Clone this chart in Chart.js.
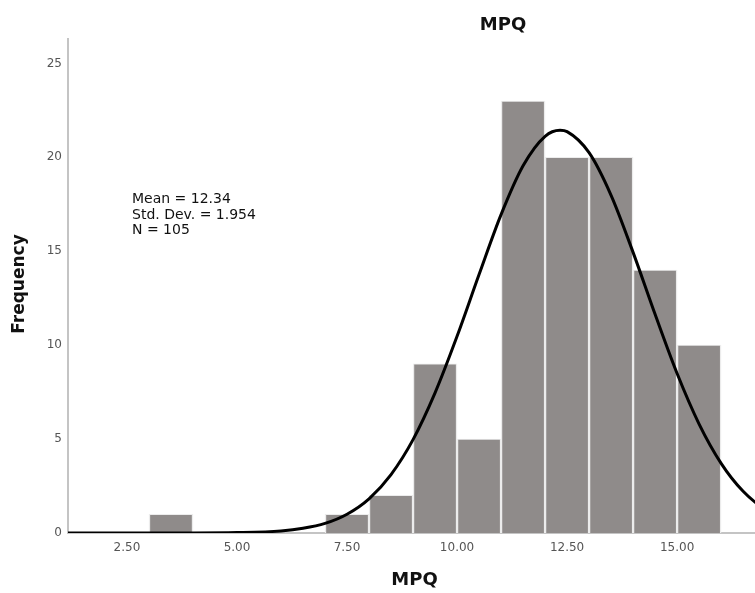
<!DOCTYPE html>
<html>
<head>
<meta charset="utf-8">
<script src="https://cdn.jsdelivr.net/npm/chart.js@4/dist/chart.umd.min.js"></script>
<style>
  html, body { margin: 0; padding: 0; background: #fff; overflow: hidden; }
  #wrap { width: 755px; height: 593px; }
</style>
</head>
<body>
<div id="wrap"><canvas id="histChart" width="755" height="593"></canvas></div>
<script>
// histogram bins (bin centre) and counts
const binCenters = [3.5, 7.5, 8.5, 9.5, 10.5, 11.5, 12.5, 13.5, 14.5, 15.5];
const binCounts = [1, 1, 2, 9, 5, 23, 20, 20, 14, 10];

// normal curve
const curveX = [1, 2, 3, 4, 5, 6, 6.5, 7, 7.5, 8, 8.5, 9, 9.5, 10, 10.5, 11, 11.5, 12, 12.34, 12.5, 13, 13.5, 14, 14.5, 15, 15.5, 16, 16.5, 17, 17.5];
const curveY = [0, 0, 0, 0, 0.02, 0.11, 0.25, 0.51, 1.0, 1.82, 3.11, 4.97, 7.46, 10.47, 13.76, 16.95, 19.55, 21.12, 21.44, 21.37, 20.25, 17.98, 14.94, 11.64, 8.49, 5.80, 3.71, 2.22, 1.25, 0.66];

const xTicks = [2.5, 5, 7.5, 10, 12.5, 15];
const yTicks = [0, 5, 10, 15, 20, 25];

const statLines = ['Mean = 12.34', 'Std. Dev. = 1.954', 'N = 105'];
const chartTitle = 'MPQ';
const xTitle = 'MPQ';
const yTitle = 'Frequency';

const textPlugin = {
  id: 'spssText',
  afterDraw(chart) {
    const ctx = chart.ctx;
    const area = chart.chartArea;
    ctx.save();
    ctx.fillStyle = '#111';
    ctx.textAlign = 'center';
    ctx.textBaseline = 'middle';
    ctx.font = 'bold 18px "DejaVu Sans"';
    ctx.fillText(chartTitle, 503, 25);
    ctx.fillText(xTitle, (area.left + area.right) / 2 + 3, 580);

    ctx.save();
    ctx.translate(20, (area.top + area.bottom) / 2 - 2);
    ctx.rotate(-Math.PI / 2);
    ctx.font = 'bold 17px "DejaVu Sans"';
    ctx.fillText(yTitle, 0, 0);
    ctx.restore();

    ctx.textAlign = 'left';
    ctx.textBaseline = 'alphabetic';
    ctx.font = '14px "DejaVu Sans"';
    ctx.fillStyle = '#111';
    statLines.forEach((s, i) => ctx.fillText(s, 132, 203 + i * 15.5));
    ctx.restore();
  }
};

new Chart(document.getElementById('histChart'), {
  data: {
    datasets: [
      {
        type: 'line',
        data: curveX.map((x, i) => ({ x, y: curveY[i] })),
        borderColor: '#000',
        borderWidth: 3,
        pointRadius: 0,
        cubicInterpolationMode: 'monotone',
        fill: false,
        order: 0
      },
      {
        type: 'bar',
        data: binCenters.map((x, i) => ({ x, y: binCounts[i] })),
        backgroundColor: '#8f8b8a',
        borderColor: '#ececec',
        borderWidth: { top: 1, left: 1.5, right: 1.5, bottom: 0 },
        barPercentage: 1,
        categoryPercentage: 1,
        order: 1
      }
    ]
  },
  options: {
    responsive: false,
    animation: false,
    layout: { padding: { top: 39, right: 0, left: 0, bottom: 0 } },
    plugins: { legend: { display: false }, tooltip: { enabled: false } },
    scales: {
      x: {
        type: 'linear',
        offset: false,
        min: 1.16,
        max: 16.77,
        afterBuildTicks(scale) { scale.ticks = xTicks.map(v => ({ value: v })); },
        afterFit(scale) { scale.height = 60; },
        grid: { display: false, drawTicks: false },
        border: { display: true, color: '#c4c4c4', width: 2 },
        ticks: {
          padding: 8,
          color: '#555',
          font: { family: 'DejaVu Sans', size: 12 },
          callback: v => v.toFixed(2)
        }
      },
      y: {
        min: 0,
        max: 26.3,
        afterBuildTicks(scale) { scale.ticks = yTicks.map(v => ({ value: v })); },
        afterFit(scale) { scale.width = 68; },
        grid: { display: false, drawTicks: false },
        border: { display: true, color: '#c4c4c4', width: 2 },
        ticks: {
          padding: 6,
          color: '#555',
          font: { family: 'DejaVu Sans', size: 12 }
        }
      }
    }
  },
  plugins: [textPlugin]
});
</script>
</body>
</html>
